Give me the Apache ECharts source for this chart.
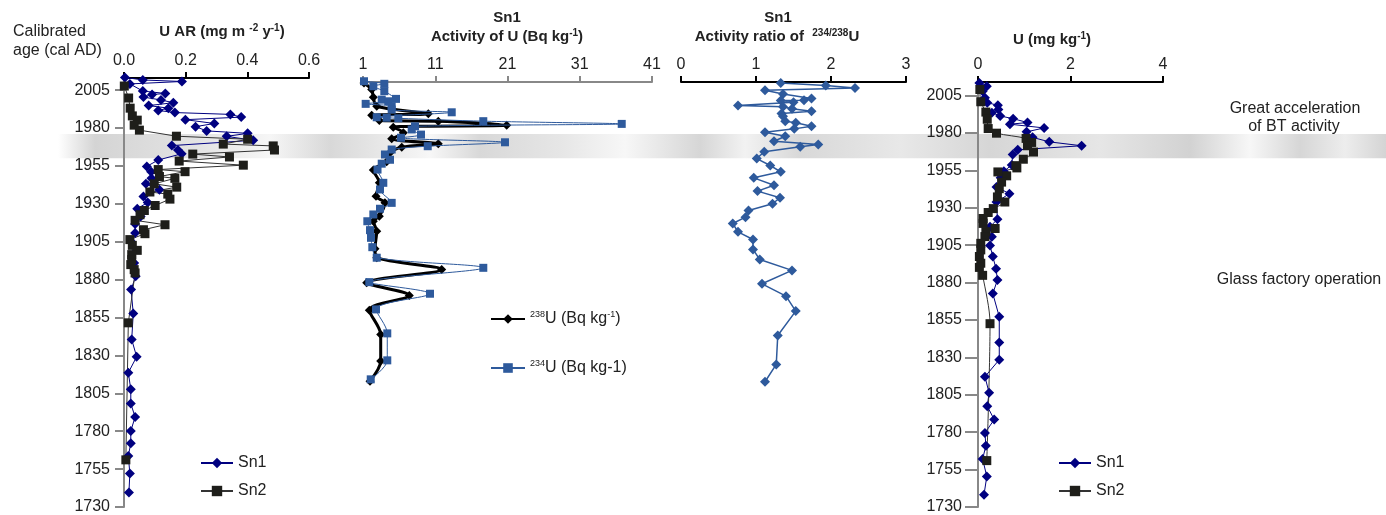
<!DOCTYPE html>
<html>
<head>
<meta charset="utf-8">
<script src="https://cdn.jsdelivr.net/npm/echarts@6/dist/echarts.min.js"></script>
<style>
html,body{margin:0;padding:0;background:#fff;}
#chart{width:1386px;height:515px;}
</style>
</head>
<body>
<div id="chart"></div>
<script>
// ---------------- DATA ----------------
const ageTicks = [1730, 1755, 1780, 1805, 1830, 1855, 1880, 1905, 1930, 1955, 1980, 2005];
const bandYears = [1960, 1976]; // "Great acceleration" period

// Panel 1: U accumulation rate (mg m-2 y-1)
const sn1ArYears = [2013.4, 2011.7, 2010.7, 2009.1, 2004.4, 2002.8, 2002.1, 2000.4, 1998.5, 1996.7, 1994.8, 1993.1, 1991.6, 1990.2, 1989.0, 1987.2, 1985.5, 1983.0, 1980.9, 1978.1, 1976.5, 1974.5, 1971.9, 1968.4, 1965.5, 1963.0, 1958.9, 1954.7, 1951.1, 1946.8, 1943.2, 1939.3, 1934.9, 1930.9, 1926.8, 1921.7, 1916.7, 1910.8, 1905.2, 1891.0, 1882.2, 1873.4, 1857.6, 1840.5, 1829.1, 1818.6, 1807.6, 1798.2, 1789.4, 1780.1, 1772.1, 1763.7, 1752.1, 1739.6];
const sn1ArValues = [0.003, 0.061, 0.188, 0.019, 0.061, 0.134, 0.091, 0.063, 0.120, 0.160, 0.080, 0.144, 0.111, 0.165, 0.345, 0.380, 0.199, 0.293, 0.232, 0.268, 0.401, 0.333, 0.419, 0.155, 0.175, 0.187, 0.111, 0.074, 0.088, 0.089, 0.071, 0.115, 0.063, 0.077, 0.043, 0.054, 0.036, 0.036, 0.023, 0.033, 0.038, 0.023, 0.030, 0.025, 0.041, 0.014, 0.022, 0.022, 0.036, 0.022, 0.022, 0.014, 0.019, 0.016];
const sn2ArYears = [2007.7, 1999.8, 1993.1, 1988.0, 1985.2, 1981.9, 1978.6, 1974.6, 1972.6, 1969.4, 1968.2, 1965.5, 1962.8, 1960.9, 1958.2, 1955.5, 1952.6, 1951.2, 1948.0, 1946.8, 1943.2, 1941.0, 1937.8, 1936.4, 1933.1, 1928.9, 1925.6, 1922.8, 1919.1, 1916.2, 1912.9, 1910.3, 1906.4, 1902.6, 1899.3, 1896.5, 1893.2, 1889.9, 1886.6, 1884.4, 1851.5, 1761.1];
const sn2ArValues = [0.001, 0.015, 0.020, 0.027, 0.043, 0.033, 0.050, 0.170, 0.401, 0.322, 0.484, 0.488, 0.223, 0.342, 0.179, 0.387, 0.111, 0.198, 0.115, 0.165, 0.098, 0.171, 0.084, 0.142, 0.149, 0.101, 0.066, 0.052, 0.036, 0.133, 0.063, 0.068, 0.019, 0.027, 0.043, 0.025, 0.025, 0.022, 0.033, 0.036, 0.014, 0.006];

// Panel 2: Sn1 activity of U (Bq kg-1)
const u238Years = [2013.4, 2009.0, 2003.9, 1997.9, 1992.9, 1991.9, 1988.4, 1988.0, 1985.3, 1984.0, 1980.3, 1976.3, 1973.0, 1970.7, 1967.0, 1961.0, 1955.6, 1947.1, 1938.2, 1933.8, 1925.0, 1921.6, 1915.0, 1903.3, 1897.4, 1889.6, 1880.8, 1872.4, 1862.6, 1846.5, 1828.8, 1815.5];
const u238Values = [1.14, 2.20, 2.43, 2.90, 10.04, 2.20, 3.26, 11.42, 20.89, 5.19, 6.58, 4.97, 11.42, 6.36, 4.74, 4.28, 2.43, 3.26, 2.80, 4.04, 3.26, 2.43, 2.90, 2.66, 2.90, 11.89, 1.51, 7.41, 1.87, 3.45, 3.45, 1.97];
const u234Years = [2014.5, 2012.8, 2011.2, 2007.9, 2002.8, 2002.3, 2001.2, 1999.5, 1997.9, 1995.7, 1993.9, 1990.6, 1990.3, 1989.9, 1988.0, 1986.2, 1984.6, 1982.5, 1979.1, 1977.0, 1974.0, 1971.4, 1969.2, 1965.9, 1962.4, 1959.8, 1955.9, 1947.1, 1942.7, 1933.8, 1929.9, 1926.1, 1921.6, 1915.7, 1910.6, 1904.4, 1897.4, 1890.7, 1881.2, 1873.5, 1863.1, 1847.2, 1829.3, 1816.7];
const u234Values = [1.14, 3.95, 2.43, 3.95, 5.57, 3.59, 4.50, 1.37, 4.97, 4.97, 13.28, 2.90, 4.28, 5.89, 17.65, 36.81, 8.20, 7.74, 9.03, 6.26, 20.65, 9.96, 4.97, 4.04, 4.74, 3.59, 3.01, 3.81, 3.35, 4.97, 3.35, 2.43, 1.60, 1.97, 2.11, 2.29, 2.90, 17.65, 1.87, 10.27, 2.80, 4.36, 4.36, 2.07];

// Panel 3: Sn1 activity ratio 234U/238U
const ratioYears = [2013.4, 2011.6, 2010.1, 2008.5, 2006.1, 2003.0, 2001.9, 2001.7, 2000.6, 1998.4, 1997.5, 1996.2, 1994.6, 1993.1, 1991.3, 1988.0, 1986.9, 1984.6, 1982.9, 1980.7, 1978.0, 1974.7, 1972.5, 1971.0, 1967.7, 1963.2, 1958.6, 1954.4, 1950.4, 1945.5, 1941.6, 1937.2, 1933.2, 1928.7, 1924.3, 1920.1, 1914.6, 1909.5, 1902.9, 1896.2, 1889.0, 1880.1, 1871.9, 1862.0, 1845.8, 1826.6, 1815.1];
const ratioValues = [1.33, 1.93, 2.32, 1.12, 1.36, 1.74, 1.64, 1.33, 1.50, 0.76, 1.36, 1.48, 1.74, 1.34, 1.36, 1.39, 1.53, 1.74, 1.51, 1.12, 1.39, 1.24, 1.83, 1.59, 1.11, 1.01, 1.19, 1.33, 0.97, 1.24, 1.02, 1.32, 1.22, 0.90, 0.86, 0.69, 0.76, 0.96, 0.96, 1.05, 1.48, 1.08, 1.40, 1.53, 1.29, 1.27, 1.12];

// Panel 4: U concentration (mg kg-1)
const sn1UYears = [2013.4, 2011.2, 2007.9, 2003.5, 2000.2, 1998.4, 1995.7, 1993.5, 1991.3, 1989.5, 1986.9, 1985.8, 1983.3, 1980.7, 1977.0, 1974.0, 1971.4, 1968.7, 1965.5, 1958.6, 1954.3, 1950.0, 1943.8, 1939.4, 1933.8, 1922.3, 1917.3, 1910.6, 1904.7, 1897.4, 1889.2, 1881.7, 1872.6, 1857.1, 1839.9, 1828.4, 1817.1, 1806.3, 1797.4, 1788.4, 1779.5, 1770.9, 1762.1, 1750.4, 1738.2];
const sn1UValues = [0.03, 0.19, 0.10, 0.15, 0.20, 0.43, 0.44, 0.30, 0.48, 0.76, 1.07, 0.69, 1.43, 1.05, 1.18, 1.54, 2.24, 0.86, 0.75, 0.73, 0.56, 0.49, 0.40, 0.68, 0.40, 0.42, 0.26, 0.30, 0.26, 0.32, 0.39, 0.42, 0.32, 0.46, 0.46, 0.46, 0.15, 0.24, 0.20, 0.35, 0.15, 0.17, 0.10, 0.19, 0.13];
const sn2UYears = [2009.0, 2000.8, 1993.9, 1989.1, 1982.9, 1979.8, 1976.3, 1973.6, 1971.4, 1967.2, 1962.4, 1958.1, 1956.6, 1953.9, 1951.3, 1947.1, 1942.7, 1937.2, 1933.8, 1929.4, 1926.8, 1922.8, 1919.5, 1916.1, 1914.0, 1910.7, 1906.2, 1901.8, 1897.4, 1892.9, 1890.1, 1884.8, 1852.5, 1761.0];
const sn2UValues = [0.04, 0.06, 0.17, 0.20, 0.22, 0.40, 1.04, 1.16, 1.07, 1.20, 0.98, 0.82, 0.84, 0.43, 0.62, 0.51, 0.46, 0.42, 0.58, 0.33, 0.22, 0.11, 0.11, 0.37, 0.17, 0.15, 0.06, 0.06, 0.03, 0.06, 0.03, 0.10, 0.26, 0.19];

// ---------------- CHART ----------------
const zip = (vals, yrs) => vals.map((v, i) => [v, yrs[i]]);
const FONT = '"Liberation Sans", Arial, sans-serif';
const TXT = '#222';
const NAVY = '#000080';
const DARK = '#1e1e1a';
const BLUE = '#2e5a9c';

const chart = echarts.init(document.getElementById('chart'), null, {renderer: 'canvas'});

function xAx(grid, min, max, interval, color, fmt) {
  return {
    gridIndex: grid, type: 'value', position: 'top', min, max, interval,
    axisLine: {show: true, onZero: false, lineStyle: {color, width: 2}},
    axisTick: {show: true, length: 6, lineStyle: {color, width: 2}},
    axisLabel: {fontSize: 16, color: TXT, fontFamily: FONT, margin: 9, formatter: fmt || (v => String(v))},
    splitLine: {show: false}
  };
}
function yAx(grid, max, show, tickLen, margin) {
  return {
    gridIndex: grid, type: 'value', min: 1730, max, show,
    axisLine: {show: true, onZero: false, lineStyle: {color: '#888', width: 2}},
    axisTick: {show: true, length: tickLen, customValues: ageTicks, lineStyle: {color: '#888', width: 2}},
    axisLabel: {fontSize: 16, color: TXT, fontFamily: FONT, margin, customValues: ageTicks, formatter: v => String(v)},
    splitLine: {show: false}
  };
}
function lineS(name, xi, data, color, lineColor, width, symbol, size, smooth, z) {
  return {
    name, type: 'line', xAxisIndex: xi, yAxisIndex: xi, data,
    symbol, symbolSize: size, smooth: smooth || false, clip: false, z: z || 2,
    lineStyle: {color: lineColor, width},
    itemStyle: {color, borderWidth: 0},
    emphasis: {disabled: true}, animation: false
  };
}
const legendText = {fontSize: 16, color: TXT, fontFamily: FONT};

const option = {
  animation: false,
  textStyle: {fontFamily: FONT},
  grid: [
    {left: 124, top: 78, width: 185, height: 430},
    {left: 363, top: 82, width: 289, height: 428},
    {left: 681, top: 82, width: 225, height: 428},
    {left: 978, top: 82, width: 185, height: 428}
  ],
  xAxis: [
    xAx(0, 0, 0.6, 0.2, '#000', v => v.toFixed(1)),
    xAx(1, 1, 41, 10, '#888'),
    xAx(2, 0, 3, 1, '#000'),
    xAx(3, 0, 4, 2, '#000')
  ],
  yAxis: [
    yAx(0, 2013, true, 9, 14),
    yAx(1, 2014, false, 0, 0),
    yAx(2, 2014, false, 0, 0),
    yAx(3, 2014, true, 13, 16)
  ],
  legend: [
    {data: ['Sn1', 'Sn2'], orient: 'vertical', left: 200, top: 455, padding: 0, itemWidth: 32, itemHeight: 13, itemGap: 12,
     textStyle: legendText, selectedMode: false},
    {data: ['238U', '234U'], orient: 'vertical', left: 490, top: 310, padding: 0, itemWidth: 34, itemHeight: 12, itemGap: 32,
     selectedMode: false,
     formatter: n => n === '238U' ? '{s|238}{t|U (Bq kg}{s|-1}{t|)}' : '{s|234}{t|U (Bq kg-1)}',
     textStyle: {color: TXT, fontFamily: FONT, rich: {
       t: {fontSize: 16, lineHeight: 18, color: TXT, fontFamily: FONT},
       s: {fontSize: 9, lineHeight: 18, verticalAlign: 'top', color: TXT, fontFamily: FONT}}}},
    {data: ['Sn1', 'Sn2'], orient: 'vertical', left: 1058, top: 455, padding: 0, itemWidth: 32, itemHeight: 13, itemGap: 12,
     textStyle: legendText, selectedMode: false}
  ],
  series: [
    lineS('Sn1', 0, zip(sn1ArValues, sn1ArYears), NAVY, NAVY, 1, 'diamond', 10),
    lineS('Sn2', 0, zip(sn2ArValues, sn2ArYears), DARK, '#333', 1, 'rect', 9),
    lineS('238U', 1, zip(u238Values, u238Years), '#000', '#000', 3, 'diamond', 9, 0.3),
    lineS('234U', 1, zip(u234Values, u234Years), BLUE, BLUE, 1, 'rect', 8, 0.3, 3),
    lineS('ratio', 2, zip(ratioValues, ratioYears), BLUE, BLUE, 1.5, 'diamond', 10),
    lineS('Sn1', 3, zip(sn1UValues, sn1UYears), NAVY, NAVY, 1, 'diamond', 10),
    lineS('Sn2', 3, zip(sn2UValues, sn2UYears), DARK, '#333', 1, 'rect', 9, 0.3)
  ]
};
chart.setOption(option);

// Titles and annotations (rich text for superscripts)
const bold = {fontSize: 15, fontWeight: 'bold', fill: TXT, fontFamily: FONT, lineHeight: 18};
const supB = {fontSize: 10, fontWeight: 'bold', fill: TXT, fontFamily: FONT, lineHeight: 18, verticalAlign: 'top'};
function txt(id, x, y, text, extra) {
  return Object.assign({id, type: 'text', x, y, z: 10, silent: true,
    style: Object.assign({text, fill: TXT, font: '16px ' + FONT, align: 'center', verticalAlign: 'middle',
      rich: {b: bold, sb: supB}}, extra || {})});
}
// Gradient band for the "great acceleration" years, placed through the age axis
const yTop = chart.convertToPixel({gridIndex: 0}, [0, bandYears[1]])[1];
const yBot = chart.convertToPixel({gridIndex: 0}, [0, bandYears[0]])[1];
const bandX0 = 58, bandX1 = 1386;
const g = x => (x - bandX0) / (bandX1 - bandX0);
const bandStops = [
  [58, '#ffffff'], [95, '#d4d4d4'], [200, '#e4e4e4'], [270, '#f6f6f6'], [330, '#d8d8d8'],
  [430, '#f7f7f7'], [480, '#d8d8d8'], [560, '#e6e6e6'], [625, '#f7f7f7'], [700, '#d6d6d6'],
  [745, '#f2f2f2'], [800, '#d8d8d8'], [900, '#e8e8e8'], [990, '#d6d6d6'], [1100, '#e6e6e6'],
  [1190, '#d2d2d2'], [1250, '#f7f7f7'], [1300, '#d6d6d6'], [1345, '#ededed'], [1386, '#d4d4d4']
].map(s => ({offset: g(s[0]), color: s[1]}));

chart.setOption({
  graphic: [
    {id: 'band', type: 'rect', z: -5, silent: true,
     shape: {x: bandX0, y: yTop, width: bandX1 - bandX0, height: yBot - yTop},
     style: {fill: new echarts.graphic.LinearGradient(0, 0, 1, 0, bandStops)}},
    txt('cal1', 13, 32, 'Calibrated', {align: 'left'}),
    txt('cal2', 13, 51, 'age (cal AD)', {align: 'left'}),
    txt('t1', 222, 32, '{b|U AR (mg m }{sb|-2}{b| y}{sb|-1}{b|)}'),
    txt('t2a', 507, 18, '{b|Sn1}'),
    txt('t2b', 507, 37, '{b|Activity of U (Bq kg}{sb|-1}{b|)}'),
    txt('t3a', 778, 18, '{b|Sn1}'),
    txt('t3b', 777, 37, '{b|Activity ratio of  }{sb|234/238}{b|U}'),
    txt('t4', 1052, 40, '{b|U (mg kg}{sb|-1}{b|)}'),
    txt('n1', 1295, 109, 'Great acceleration'),
    txt('n2', 1294, 127, 'of BT activity'),
    txt('n3', 1299, 280, 'Glass factory operation')
  ]
});
</script>
</body>
</html>
